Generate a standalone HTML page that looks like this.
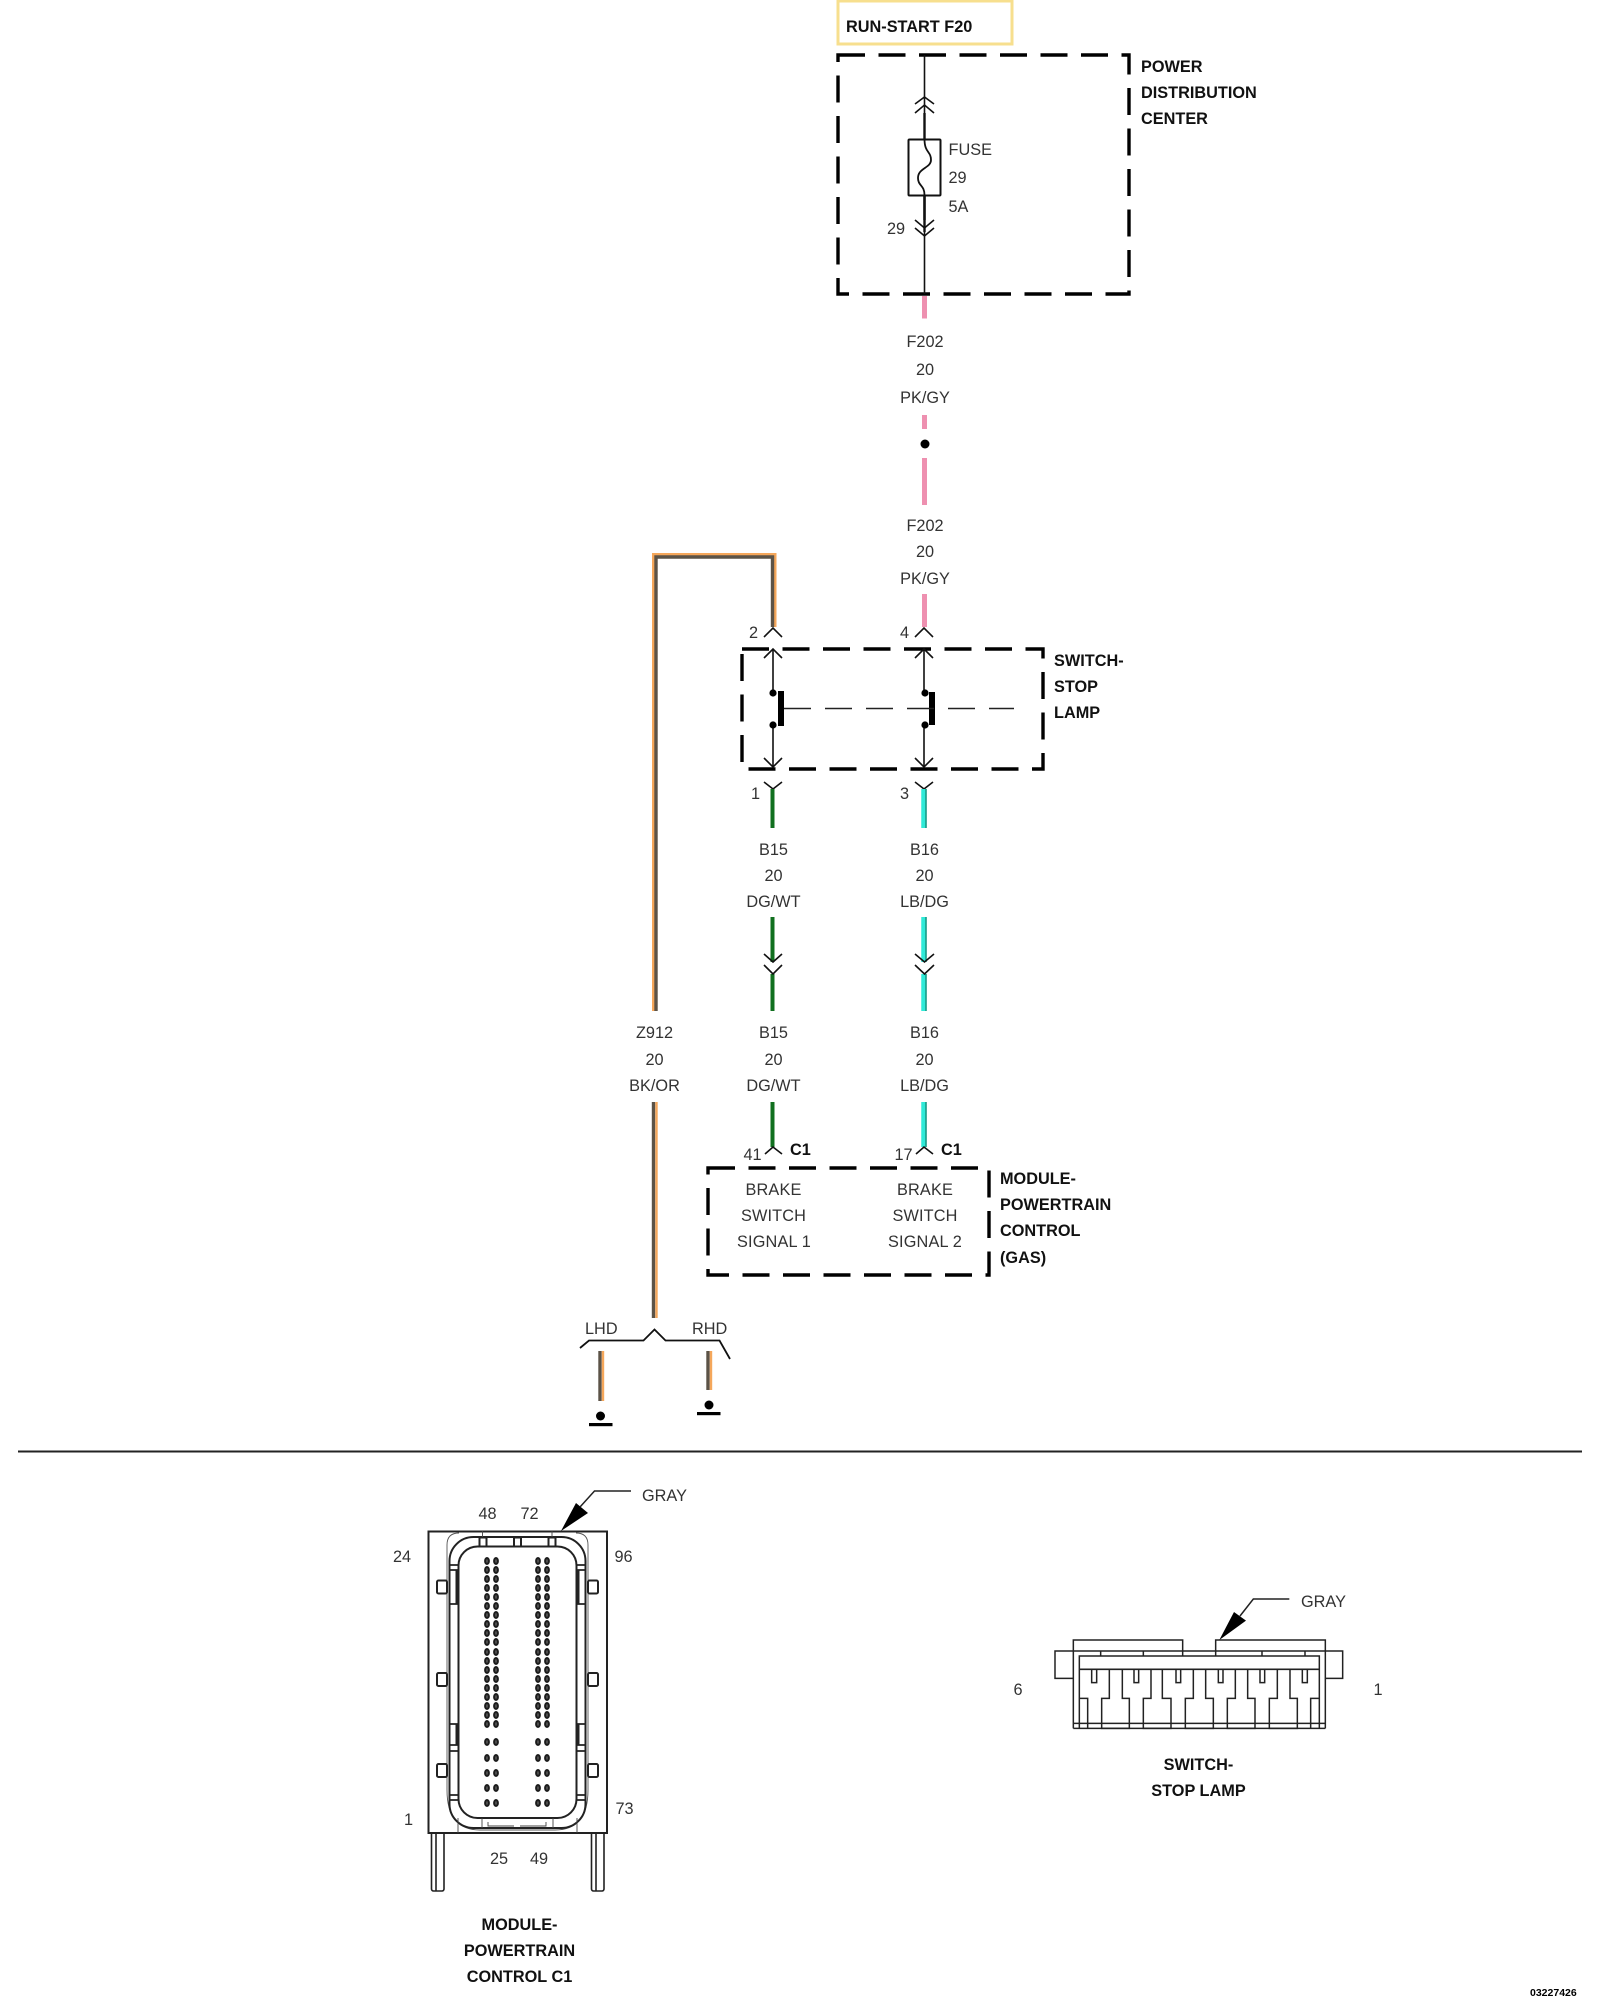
<!DOCTYPE html>
<html><head><meta charset="utf-8"><style>
html,body{margin:0;padding:0;background:#fff}
svg{display:block}
text{font-family:"Liberation Sans",sans-serif;font-size:16.3px;fill:#333}
.b{font-weight:bold;font-size:16.3px;fill:#111}
.m{text-anchor:middle}
.s{fill:none;stroke:#111;stroke-width:1.6}
.d{fill:none;stroke:#000;stroke-width:3.4;stroke-dasharray:27 13.5}
.c{fill:none;stroke:#111;stroke-width:1.6}
</style></head><body>
<svg width="1600" height="2000" viewBox="0 0 1600 2000" xmlns="http://www.w3.org/2000/svg">
<rect width="1600" height="2000" fill="#fff"/>

<!-- top fuse label -->
<path d="M838 44V1H1012V44Z" fill="none" stroke="#f7df8e" stroke-width="3"/>
<text class="b" x="846" y="32">RUN-START F20</text>
<path class="d" d="M838 55H1129V294H838Z"/>
<text class="b" x="1141" y="72">POWER</text>
<text class="b" x="1141" y="98">DISTRIBUTION</text>
<text class="b" x="1141" y="124">CENTER</text>

<path class="s" d="M924.5 55V294"/>
<path d="M924.5 113V139M924.5 195V220" stroke="#111" stroke-width="2.4" fill="none"/>
<path class="c" d="M915 104L924.5 97L934 104M915 113L924.5 105L934 113"/>
<rect x="908.5" y="139.5" width="32" height="56" rx="1" fill="#fff" stroke="#111" stroke-width="2"/>
<path d="M924.5 139C924.5 153 931 151 931 160C931 168 918 168 918 178C918 186 924.5 185 924.5 195" fill="none" stroke="#111" stroke-width="1.8"/>
<path d="M924.5 195V232" stroke="#111" stroke-width="2.4"/>
<path class="c" d="M915 220L924.5 228L934 220M915 228L924.5 236L934 228"/>
<text x="948.5" y="155">FUSE</text>
<text x="948.5" y="183">29</text>
<text x="948.5" y="212">5A</text>
<text x="887" y="234">29</text>

<!-- pink wire -->
<path d="M924.5 296V318.5M924.5 415V429M924.5 458V505M924.5 594V627" stroke="#ee90b0" stroke-width="5"/>
<circle cx="925" cy="444" r="4.5" fill="#000"/>
<text class="m" x="925" y="347">F202</text>
<text class="m" x="925" y="375">20</text>
<text class="m" x="925" y="403">PK/GY</text>
<text class="m" x="925" y="531">F202</text>
<text class="m" x="925" y="557">20</text>
<text class="m" x="925" y="584">PK/GY</text>

<!-- Z912 wire -->
<path d="M654 1011V555H774.5V627" fill="none" stroke="#f5a75b" stroke-width="4"/>
<path d="M656 1011V557H772.5V627" fill="none" stroke="#5c5347" stroke-width="3.4"/>
<path d="M653.5 1102V1318M600 1351V1401M708 1351V1390" stroke="#5c5347" stroke-width="3.4"/>
<path d="M656.5 1102V1318M603 1351V1401M711 1351V1390" stroke="#f5a75b" stroke-width="2.4"/>
<text class="m" x="654.5" y="1038">Z912</text>
<text class="m" x="654.5" y="1065">20</text>
<text class="m" x="654.5" y="1091">BK/OR</text>

<!-- switch -->
<path class="d" d="M742 649H1043V769H742Z"/>
<text class="b" x="1054" y="666">SWITCH-</text>
<text class="b" x="1054" y="692">STOP</text>
<text class="b" x="1054" y="718">LAMP</text>
<path class="c" d="M764 637L773 628L782 637M915 637L924 628L933 637"/>
<path class="c" d="M764 658L773 649L782 658M915 658L924 649L933 658"/>
<path class="s" d="M773 649V693M924 649V693M773 725V768M924 725V768"/>
<path class="c" d="M764 758L773 767L782 758M915 758L924 767L933 758"/>
<circle cx="773" cy="693" r="3.6" fill="#000"/><circle cx="773" cy="725" r="3.6" fill="#000"/>
<circle cx="925" cy="693" r="3.6" fill="#000"/><circle cx="925" cy="725" r="3.6" fill="#000"/>
<rect x="778" y="691" width="6" height="35" fill="#000"/>
<rect x="929" y="692" width="6" height="33" fill="#000"/>
<path d="M784 708.5H1014" fill="none" stroke="#222" stroke-width="1.4" stroke-dasharray="27 14"/>
<path class="c" d="M764 782L773 789L782 782M915 782L924 789L933 782"/>
<text x="749" y="638">2</text><text x="900" y="638">4</text>
<text x="751" y="799">1</text><text x="900" y="799">3</text>

<!-- green and cyan wires -->
<path d="M772.5 789V828M772.5 917V962M772.5 974V1011M772.5 1102V1147" stroke="#11701f" stroke-width="4"/>
<path d="M924 789V828M924 917V962M924 974V1011M924 1102V1147" stroke="#2fead8" stroke-width="5.5"/>
<path d="M926 789V828M926 917V962M926 974V1011M926 1102V1147" stroke="#11806a" stroke-width="1.2"/>
<path class="c" d="M764 954L773 962L782 954M764 965L773 974L782 965M915 954L924.5 962L934 954M915 965L924.5 974L934 965"/>
<text class="m" x="773.5" y="855">B15</text><text class="m" x="773.5" y="881">20</text><text class="m" x="773.5" y="907">DG/WT</text>
<text class="m" x="924.5" y="855">B16</text><text class="m" x="924.5" y="881">20</text><text class="m" x="924.5" y="907">LB/DG</text>
<text class="m" x="773.5" y="1038">B15</text><text class="m" x="773.5" y="1065">20</text><text class="m" x="773.5" y="1091">DG/WT</text>
<text class="m" x="924.5" y="1038">B16</text><text class="m" x="924.5" y="1065">20</text><text class="m" x="924.5" y="1091">LB/DG</text>

<!-- module box -->
<path class="c" d="M765 1154L773 1147L782 1154M916 1154L924 1147L933 1154"/>
<text x="743.5" y="1160">41</text><text x="894.5" y="1160">17</text>
<text class="b" x="790" y="1155">C1</text><text class="b" x="941" y="1155">C1</text>
<path class="d" d="M708 1168H989V1275H708Z"/>
<g letter-spacing=".15">
<text class="m" x="773.5" y="1195">BRAKE</text><text class="m" x="773.5" y="1221">SWITCH</text><text class="m" x="774" y="1247">SIGNAL 1</text>
<text class="m" x="925" y="1195">BRAKE</text><text class="m" x="925" y="1221">SWITCH</text><text class="m" x="925" y="1247">SIGNAL 2</text>
</g>
<text class="b" x="1000" y="1184">MODULE-</text>
<text class="b" x="1000" y="1210">POWERTRAIN</text>
<text class="b" x="1000" y="1236">CONTROL</text>
<text class="b" x="1000" y="1263">(GAS)</text>

<!-- grounds -->
<text x="585" y="1334">LHD</text><text x="692" y="1334">RHD</text>
<path d="M580 1348L589 1340.5H643.5L654.5 1329.5L665.5 1340.5H719.5L730 1359" fill="none" stroke="#111" stroke-width="1.8"/>
<circle cx="600.5" cy="1416" r="4.5" fill="#000"/><rect x="589" y="1423" width="23.5" height="3.2" fill="#000"/>
<circle cx="709" cy="1405" r="4.5" fill="#000"/><rect x="697" y="1412" width="23.5" height="3.2" fill="#000"/>

<!-- divider -->
<path d="M18 1451.5H1582" stroke="#222" stroke-width="2"/>

<!-- C1 connector -->
<defs>
<g id="r"><ellipse cx="487" cy="0" rx="1.9" ry="3"/><ellipse cx="496" cy="0" rx="1.9" ry="3"/><ellipse cx="538" cy="0" rx="1.9" ry="3"/><ellipse cx="547" cy="0" rx="1.9" ry="3"/></g>
</defs>
<rect x="428.5" y="1531.5" width="178.5" height="301.5" fill="none" stroke="#222" stroke-width="2"/>
<path d="M431.5 1833V1889a2 2 0 0 0 2 2H442a2 2 0 0 0 2-2V1833M436 1833V1891M591.5 1833V1889a2 2 0 0 0 2 2H602a2 2 0 0 0 2-2V1833M596 1833V1891" fill="none" stroke="#222" stroke-width="1.6"/>
<path d="M447 1580V1545Q447 1533 459 1533M588 1580V1545Q588 1533 576 1533" fill="none" stroke="#555" stroke-width=".9"/>
<path d="M447 1790Q447 1830 480 1830H555Q588 1830 588 1790V1580M447 1790V1580" fill="none" stroke="#555" stroke-width=".9"/>
<rect x="449.5" y="1537" width="136" height="291" rx="24" fill="none" stroke="#222" stroke-width="2"/>
<rect x="458.5" y="1546.5" width="118" height="271.5" rx="19" fill="none" stroke="#222" stroke-width="2"/>
<g fill="#fff" stroke="#222" stroke-width="2">
<rect x="437" y="1580.5" width="10" height="13" rx="1.5"/><rect x="437" y="1673" width="10" height="13" rx="1.5"/><rect x="437" y="1764" width="10" height="13" rx="1.5"/>
<rect x="588" y="1580.5" width="10" height="13" rx="1.5"/><rect x="588" y="1673" width="10" height="13" rx="1.5"/><rect x="588" y="1764" width="10" height="13" rx="1.5"/>
<rect x="479.5" y="1537.5" width="7" height="9"/><rect x="514" y="1537.5" width="7" height="9"/><rect x="548.5" y="1537.5" width="7" height="9"/>
</g>
<path d="M450 1565H458M450 1570H458M450 1604H458M450 1724H458M450 1745H458M450 1751H458M450 1795H458M450 1800H458M577 1565H585M577 1570H585M577 1604H585M577 1724H585M577 1745H585M577 1751H585M577 1795H585M577 1800H585" stroke="#222" stroke-width="1.8"/>
<path d="M457 1570V1604M457 1724V1745M578 1570V1604M578 1724V1745" stroke="#222" stroke-width="3"/>
<path d="M482.5 1531V1537M552 1531V1537M458 1818V1833M577 1818V1833M482 1818V1828M553 1818V1828M488 1822V1826H514M520 1826H546V1822" fill="none" stroke="#444" stroke-width=".9"/>
<g fill="#555" stroke="#1c1c1c" stroke-width="2">
<use href="#r" y="1561"/><use href="#r" y="1570"/><use href="#r" y="1579"/><use href="#r" y="1588"/><use href="#r" y="1597"/><use href="#r" y="1606"/><use href="#r" y="1615"/><use href="#r" y="1624"/><use href="#r" y="1633"/><use href="#r" y="1642"/><use href="#r" y="1652"/><use href="#r" y="1661"/><use href="#r" y="1670"/><use href="#r" y="1679"/><use href="#r" y="1688"/><use href="#r" y="1697"/><use href="#r" y="1706"/><use href="#r" y="1715"/><use href="#r" y="1724"/>
<use href="#r" y="1742"/><use href="#r" y="1758"/><use href="#r" y="1773"/><use href="#r" y="1788"/><use href="#r" y="1803"/>
</g>
<path d="M561 1531L576 1503L588 1513Z" fill="#000"/>
<path d="M580 1507L594.5 1491H631" fill="none" stroke="#222" stroke-width="1.5"/>
<text x="642" y="1501">GRAY</text>
<text class="m" x="487.5" y="1519">48</text><text class="m" x="529.5" y="1519">72</text>
<text class="m" x="402" y="1562">24</text><text class="m" x="623.5" y="1562">96</text>
<text class="m" x="408.5" y="1825">1</text><text class="m" x="624.5" y="1814">73</text>
<text class="m" x="499" y="1864">25</text><text class="m" x="539" y="1864">49</text>
<text class="b m" x="519.5" y="1930">MODULE-</text>
<text class="b m" x="519.5" y="1956">POWERTRAIN</text>
<text class="b m" x="519.5" y="1982">CONTROL C1</text>

<!-- switch connector -->
<g transform="translate(1040 1580) scale(.33333)" fill="none" stroke="#222" stroke-width="4.5">
<path d="M100 445V180H428V228M856 445V180H527V228"/>
<path d="M100 213H45V295H100M856 213H908V295H856"/>
<path d="M100 213H856M182 213V228M310 213V228M666 213V228M795 213V228"/>
<path d="M118 445V228H838V445"/>
<path d="M118 268H838" stroke-width="5"/>
<path d="M100 445H856M100 430H856"/>
<path d="M155 268V308H170V268M282 268V308H296V268M408 268V308H422V268M535 268V308H549V268M660 268V308H674V268M787 268V308H802V268"/>
<path d="M118 355H143V445M812 445V355H838"/>
<path d="M208 268V355H185V445H268V355H247V268"/>
<path d="M333 268V355H310V445H393V355H367V268"/>
<path d="M460 268V355H436V445H520V355H497V268"/>
<path d="M586 268V355H562V445H645V355H623V268"/>
<path d="M712 268V355H688V445H772V355H750V268"/>
<path d="M600 108L640 57H748"/>
<path d="M538 180L582 96L618 122Z" fill="#000" stroke="none"/>
</g>
<text x="1301" y="1607">GRAY</text>
<text class="m" x="1018" y="1695">6</text><text class="m" x="1378" y="1695">1</text>
<text class="b m" x="1198.5" y="1770">SWITCH-</text>
<text class="b m" x="1198.5" y="1796">STOP LAMP</text>

<text x="1530" y="1996" style="font-size:10.5px;font-weight:bold;fill:#000">03227426</text>
</svg>
</body></html>
